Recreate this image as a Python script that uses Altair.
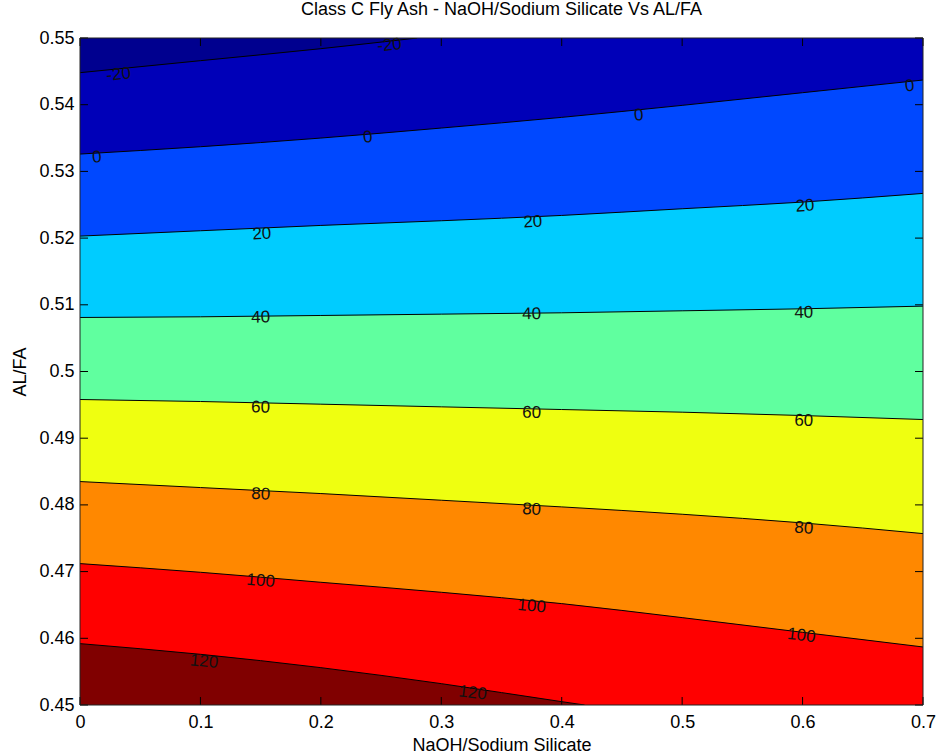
import altair as alt
import pandas as pd

# ---------------------------------------------------------------- text
TITLE = "Class C Fly Ash - NaOH/Sodium Silicate Vs AL/FA"
X_TITLE = "NaOH/Sodium Silicate"
Y_TITLE = "AL/FA"
FONT = "Liberation Sans"

# ---------------------------------------------------------------- axes
X_DOMAIN = [0.0, 0.7]
Y_DOMAIN = [0.45, 0.55]
X_TICKS = [0.0, 0.1, 0.2, 0.3, 0.4, 0.5, 0.6, 0.7]
Y_TICKS = [0.45, 0.46, 0.47, 0.48, 0.49, 0.50, 0.51, 0.52, 0.53, 0.54, 0.55]

# ---------------------------------------------------------------- contour lines
# AL/FA position of each iso-line along NaOH/Sodium Silicate
X_GRID = [0.0, 0.1, 0.2, 0.3, 0.4, 0.5, 0.6, 0.7]

LINE_M20_X = [0.0, 0.1, 0.2, 0.28]
LINE_M20_Y = [0.5448, 0.5466, 0.5484, 0.5500]

LINE_0_Y = [0.5326, 0.5337, 0.5350, 0.5365, 0.5381, 0.5399, 0.5418, 0.5437]
LINE_20_Y = [0.5203, 0.5211, 0.5219, 0.5226, 0.5234, 0.5244, 0.5254, 0.5267]
LINE_40_Y = [0.5081, 0.5082, 0.5084, 0.5086, 0.5088, 0.5091, 0.5094, 0.5098]
LINE_60_Y = [0.4958, 0.4955, 0.4951, 0.4947, 0.4943, 0.4939, 0.4934, 0.4928]
LINE_80_Y = [0.4835, 0.4826, 0.4817, 0.4807, 0.4797, 0.4786, 0.4773, 0.4757]
LINE_100_Y = [0.4712, 0.4699, 0.4684, 0.4669, 0.4652, 0.4631, 0.4609, 0.4587]

LINE_120_X = [0.0, 0.1, 0.2, 0.3, 0.4, 0.419]
LINE_120_Y = [0.4592, 0.4576, 0.4556, 0.4532, 0.4505, 0.4500]

# ---------------------------------------------------------------- band colours (jet)
C_BELOW_M20 = "#00008F"   # < -20
C_M20_0 = "#0000B8"       # -20 .. 0
C_0_20 = "#0048FF"        # 0 .. 20
C_20_40 = "#00CCFF"       # 20 .. 40
C_40_60 = "#60FF9F"       # 40 .. 60
C_60_80 = "#EFFF10"       # 60 .. 80
C_80_100 = "#FF8800"      # 80 .. 100
C_100_120 = "#FF0000"     # 100 .. 120
C_ABOVE_120 = "#800000"   # > 120

# ---------------------------------------------------------------- inline labels
LABEL_TEXT = ["-20", "-20",
              "0", "0", "0", "0",
              "20", "20", "20",
              "40", "40", "40",
              "60", "60", "60",
              "80", "80", "80",
              "100", "100", "100",
              "120", "120"]
LABEL_X = [0.032, 0.257,
           0.014, 0.239, 0.464, 0.689,
           0.151, 0.376, 0.602,
           0.150, 0.375, 0.601,
           0.150, 0.375, 0.601,
           0.150, 0.375, 0.601,
           0.150, 0.375, 0.599,
           0.103, 0.326]
LABEL_Y = [0.5445, 0.5489,
           0.5321, 0.5351, 0.5384, 0.5428,
           0.5206, 0.5224, 0.5248,
           0.5081, 0.5086, 0.5088,
           0.4946, 0.4938, 0.4926,
           0.4816, 0.4793, 0.4765,
           0.4686, 0.4648, 0.4604,
           0.4565, 0.4518]
LABEL_ANGLE = [354, 354,
               356, 355, 355, 354,
               357, 357, 356,
               359, 359, 359,
               1, 2, 2,
               3, 3, 4,
               5, 5, 7,
               6, 7]

# ---------------------------------------------------------------- layout
W, H = 843, 667
TICK_LEN = 8

x_scale = alt.Scale(domain=X_DOMAIN, nice=False, zero=False)
y_scale = alt.Scale(domain=Y_DOMAIN, nice=False, zero=False)

x_axis = alt.Axis(values=X_TICKS, format=".1~f", ticks=False, domain=False, grid=False,
                  labelFlush=False, labelOverlap=False, labelFont=FONT, labelFontSize=18,
                  labelColor="black", labelPadding=8, titleFont=FONT, titleFontSize=18,
                  titleFontWeight="normal", titleColor="black", titlePadding=5)
y_axis = alt.Axis(values=Y_TICKS, format=".2~f", ticks=False, domain=False, grid=False,
                  labelFlush=False, labelOverlap=False, labelFont=FONT, labelFontSize=18,
                  labelColor="black", labelPadding=6, titleFont=FONT, titleFontSize=18,
                  titleFontWeight="normal", titleColor="black", titlePadding=9)

X = alt.X("x:Q", scale=x_scale, axis=x_axis, title=X_TITLE)
Y = alt.Y("y:Q", scale=y_scale, axis=y_axis, title=Y_TITLE)


def line_frame(xs, ys, level):
    return pd.DataFrame({"x": xs, "y": ys, "level": level})


lines = {
    -20: line_frame(LINE_M20_X, LINE_M20_Y, -20),
    0: line_frame(X_GRID, LINE_0_Y, 0),
    20: line_frame(X_GRID, LINE_20_Y, 20),
    40: line_frame(X_GRID, LINE_40_Y, 40),
    60: line_frame(X_GRID, LINE_60_Y, 60),
    80: line_frame(X_GRID, LINE_80_Y, 80),
    100: line_frame(X_GRID, LINE_100_Y, 100),
    120: line_frame(LINE_120_X, LINE_120_Y, 120),
}


def fill_above(level, colour):
    """Paint everything above an iso-line up to the top of the plot."""
    return alt.Chart(lines[level]).mark_area(
        color=colour, interpolate="monotone", clip=True
    ).encode(x=X, y=Y, y2=alt.datum(Y_DOMAIN[1]))


def fill_below(level, colour):
    """Paint everything below an iso-line down to the bottom of the plot."""
    return alt.Chart(lines[level]).mark_area(
        color=colour, interpolate="monotone", clip=True
    ).encode(x=X, y=Y, y2=alt.datum(Y_DOMAIN[0]))


# view background carries the 100..120 band; the others are painted on top
bands = [
    fill_below(120, C_ABOVE_120),
    fill_above(100, C_80_100),
    fill_above(80, C_60_80),
    fill_above(60, C_40_60),
    fill_above(40, C_20_40),
    fill_above(20, C_0_20),
    fill_above(0, C_M20_0),
    fill_above(-20, C_BELOW_M20),
]

all_lines = pd.concat(list(lines.values()), ignore_index=True)
contours = alt.Chart(all_lines).mark_line(
    color="black", strokeWidth=1, interpolate="monotone", clip=True
).encode(x=X, y=Y, detail="level:N")

labels = alt.Chart(pd.DataFrame({
    "x": LABEL_X, "y": LABEL_Y, "label": LABEL_TEXT, "angle": LABEL_ANGLE,
})).mark_text(font=FONT, fontSize=17, color="#111111", align="center", baseline="middle").encode(
    x=X, y=Y, text="label:N", angle=alt.Angle("angle:Q", scale=None)
)

# inward-pointing ticks on all four sides
xt = pd.DataFrame({"x": X_TICKS})
yt = pd.DataFrame({"y": Y_TICKS})
tick_style = dict(color="black", strokeWidth=1)
ticks = [
    alt.Chart(xt).mark_rule(**tick_style).encode(x=X, y=alt.value(H), y2=alt.value(H - TICK_LEN)),
    alt.Chart(xt).mark_rule(**tick_style).encode(x=X, y=alt.value(0), y2=alt.value(TICK_LEN)),
    alt.Chart(yt).mark_rule(**tick_style).encode(y=Y, x=alt.value(0), x2=alt.value(TICK_LEN)),
    alt.Chart(yt).mark_rule(**tick_style).encode(y=Y, x=alt.value(W), x2=alt.value(W - TICK_LEN)),
]

frame = alt.Chart(pd.DataFrame({"box": [0]})).mark_rect(
    filled=False, stroke="#222222", strokeWidth=1
).encode(x=alt.value(0), x2=alt.value(W), y=alt.value(0), y2=alt.value(H))

chart = alt.layer(*bands, contours, labels, *ticks, frame).properties(
    width=W,
    height=H,
    title=alt.TitleParams(TITLE, font=FONT, fontSize=18, fontWeight="normal",
                          color="black", anchor="middle", offset=10),
    autosize=alt.AutoSizeParams(type="none"),
    padding={"left": 80, "top": 38, "right": 16, "bottom": 51},
).configure_view(fill=C_100_120, stroke=None)

chart.save("out.html", embed_options={"renderer": "svg", "actions": False})
